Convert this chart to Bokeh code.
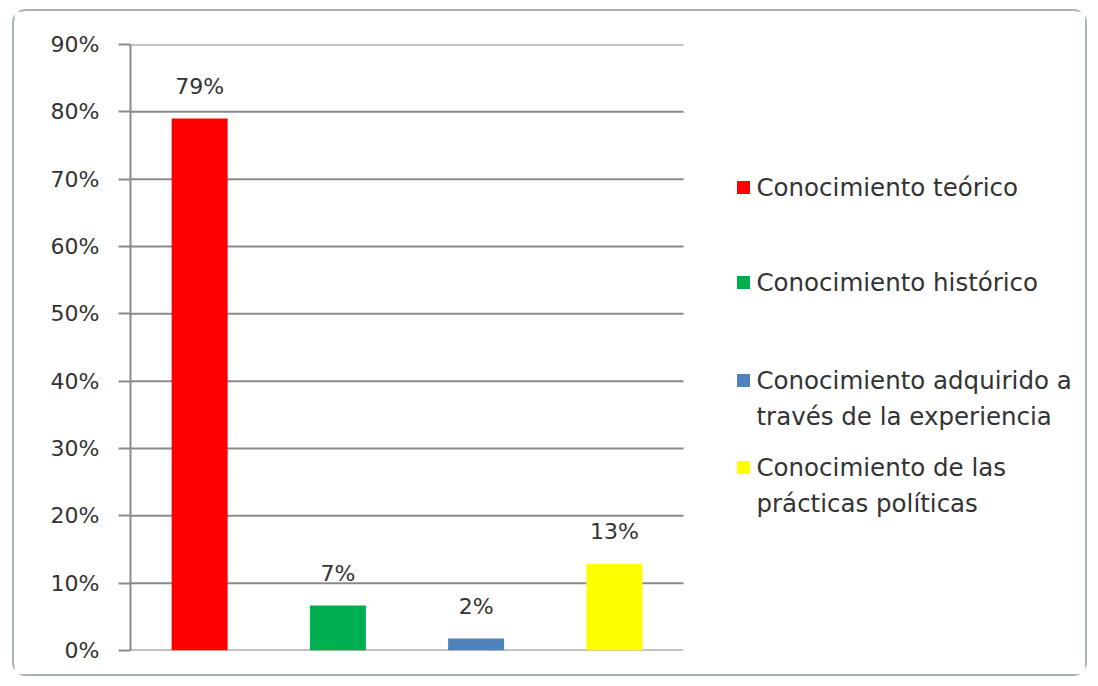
from bokeh.plotting import figure
from bokeh.models import Range1d, FixedTicker, NumeralTickFormatter, ColumnDataSource
from bokeh.core.properties import value
from bokeh.embed import file_html
from bokeh.resources import INLINE

# ---- data ----
categories = ["Conocimiento teórico", "Conocimiento histórico",
              "Conocimiento adquirido a través de la experiencia",
              "Conocimiento de las prácticas políticas"]
legend_lines = [["Conocimiento teórico"], ["Conocimiento histórico"],
                ["Conocimiento adquirido a", "través de la experiencia"],
                ["Conocimiento de las", "prácticas políticas"]]
values = [0.79, 0.067, 0.018, 0.129]
value_labels = ["79%", "7%", "2%", "13%"]
colors = ["#FF0000", "#00B050", "#4F81BD", "#FFFF00"]
y_ticks = [0.0, 0.1, 0.2, 0.3, 0.4, 0.5, 0.6, 0.7, 0.8, 0.9]

FONT = "DejaVu Sans"
TXT = "#333333"
GRID = "#8a8a8a"

OX, OY = 14, 11          # expected page position of the canvas
W, H = 1075, 667
LEFT, TOP = 130 - OX, 44 - OY
BOTTOM = H - (650 - OY)
PX_PER_CAT = 138.25
frame_w = W - LEFT
frame_h = H - TOP - BOTTOM
x_end = -0.5 + frame_w / PX_PER_CAT
y_max = y_ticks[-1]

def xd(px):
    return -0.5 + (px - OX - LEFT) / PX_PER_CAT

def yd(py):
    return y_max * (TOP + frame_h - (py - OY)) / frame_h

p = figure(width=W, height=H, output_backend="svg", toolbar_location=None,
           x_range=Range1d(-0.5, x_end), y_range=Range1d(0, y_max),
           min_border_left=LEFT, min_border_top=TOP, min_border_bottom=BOTTOM,
           min_border_right=0)
p.styles = {"border": "2px solid #a9b2b4", "border-radius": "14px",
            "margin-left": "12px", "margin-top": "9px"}
p.outline_line_color = None
p.xgrid.visible = False
p.ygrid.visible = False
p.xaxis.visible = False

ya = p.yaxis[0]
ya.ticker = FixedTicker(ticks=y_ticks)
ya.formatter = NumeralTickFormatter(format="0%")
ya.axis_line_color = GRID
ya.axis_line_width = 2
ya.major_tick_line_color = GRID
ya.major_tick_line_width = 2
ya.major_tick_out = 12
ya.major_tick_in = 0
ya.minor_tick_line_color = None
ya.major_label_standoff = 19
ya.major_label_text_font = FONT
ya.major_label_text_font_size = "22px"
ya.major_label_text_color = TXT

# gridlines limited to the plot area
n = len(categories)
p.segment(x0=[-0.5] * len(y_ticks), x1=[n - 0.5] * len(y_ticks),
          y0=y_ticks, y1=y_ticks, line_color=GRID, line_width=2)

xs = list(range(n))
src = ColumnDataSource(dict(x=xs, top=values, color=colors, lab=value_labels))
p.vbar(x="x", top="top", bottom=0, width=0.405, fill_color="color",
       line_color=None, source=src)
p.text(x="x", y="top", text="lab", source=src, text_align="center",
       text_baseline="middle", y_offset=-32, text_font=value(FONT),
       text_font_size="22px", text_color=TXT)

# manual legend (page pixel positions converted to data units)
item_y = [187, 282, 380, 467]
line_gap = 36
sq_x, txt_x = 743, 756
p.scatter(x=[xd(sq_x)] * n, y=[yd(v) for v in item_y], marker="square",
          size=13, fill_color=colors, line_color=None)
lx, ly, lt = [], [], []
for i, lines in enumerate(legend_lines):
    for j, t in enumerate(lines):
        lx.append(xd(txt_x))
        ly.append(yd(item_y[i] + j * line_gap))
        lt.append(t)
p.text(x=lx, y=ly, text=lt, text_align="left", text_baseline="middle",
       text_font=value(FONT), text_font_size="24.5px", text_color=TXT)

open("out.html", "w").write(file_html(p, INLINE))
